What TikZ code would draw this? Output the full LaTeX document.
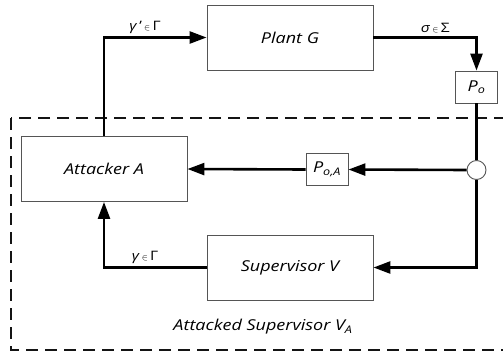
\documentclass[tikz,border=0pt]{standalone}
\usepackage{amsmath}
\usepackage{fontspec}
\setmainfont{Open Sans}[FakeStretch=1.2]
\usetikzlibrary{arrows.meta}

\begin{document}
\begin{tikzpicture}[x=1pt,y=-1pt,
  blk/.style={draw=boxcolor,line width=0.9pt,fill=fillcolor,minimum width=166pt,minimum height=65pt,inner sep=0pt,font=\fontsize{15}{18}\selectfont\itshape},
  obs/.style={draw=boxcolor,line width=0.9pt,fill=fillcolor,minimum width=42pt,minimum height=32pt,inner sep=0pt,font=\fontsize{15}{18}\selectfont\itshape},
  sig/.style={line width=2.6pt,pathcolor,-{Triangle[length=17pt,width=12pt]}},
  wire/.style={line width=2.6pt,pathcolor},
  lbl/.style={above,inner sep=3pt,font=\fontsize{13}{15}\selectfont}]
\definecolor{fillcolor}{RGB}{255,255,255}
\definecolor{boxcolor}{RGB}{85,85,85}
\definecolor{pathcolor}{RGB}{0,0,0}
\definecolor{dashcolor}{RGB}{20,20,20}
\useasboundingbox (0,0) rectangle (503,354);
\clip (0,0) rectangle (503,354);
\draw [dashcolor,line width=2pt,dash pattern=on 12pt off 7pt] (11,118) rectangle (530,350);
\node [blk] (plant) at (290,37.5) {Plant G};
\node [blk] (attacker) at (104,169) {Attacker A};
\node [blk] (sup) at (290,267.5) {Supervisor V};
\node [obs] (po) at (476.5,87) {P\textsubscript{o}};
\node [obs] (poa) at (327,169.5) {P\textsubscript{o,A}};
\node [circle,draw=boxcolor,line width=0.9pt,fill=fillcolor,minimum size=19pt,inner sep=0pt] (tap) at (476.5,170) {};
\node [font=\fontsize{15}{18}\selectfont\itshape] (attacked) at (263,327) {Attacked Supervisor V\textsubscript{A}};
\draw [sig] (attacker.north) |- (plant.west) node [lbl,pos=0.7] {\textit{γ}\,'\,$\scriptstyle\in$\,Γ};
\draw [sig] (plant.east) -| (po.north) node [lbl,pos=0.3] {\textit{σ}\,$\scriptstyle\in$\,Σ};
\draw [wire] (po.south) -- (tap.north);
\draw [sig] (tap.west) -- (poa.east);
\draw [sig] (poa.west) -- (attacker.east);
\draw [sig] (tap.south) |- (sup.east);
\draw [sig] (sup.west) -| (attacker.south) node [lbl,pos=0.3] {\textit{γ}\,$\scriptstyle\in$\,Γ};
\end{tikzpicture}
\end{document}
